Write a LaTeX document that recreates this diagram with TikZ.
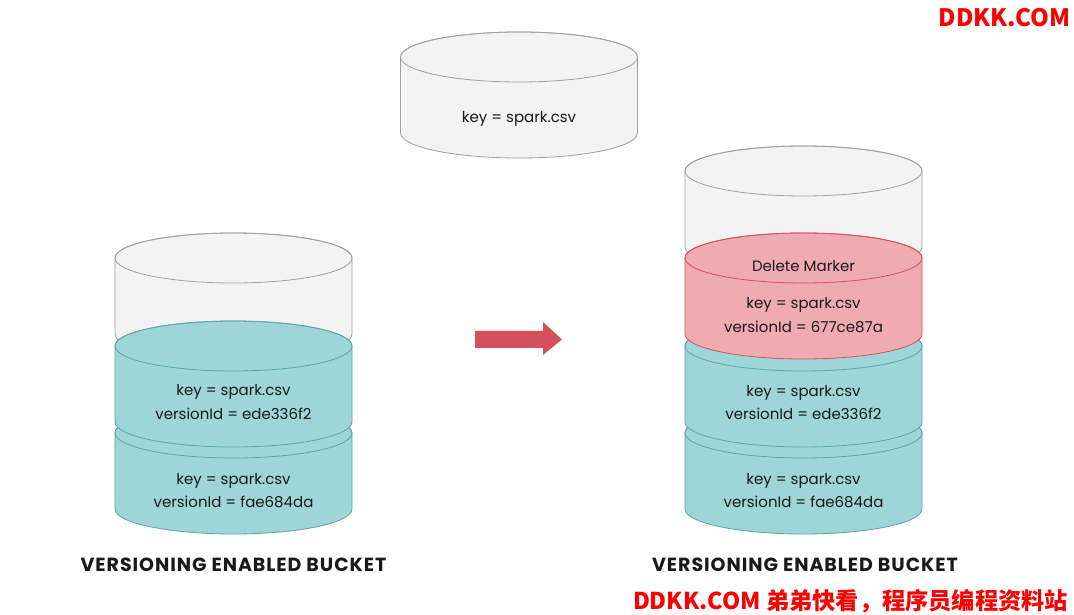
\documentclass[tikz,border=0pt]{standalone}
\usepackage{fontspec}
\setmainfont{Poppins}
\newfontfamily\cjk{Noto Sans CJK SC}
\newfontfamily\capfont[LetterSpace=5]{Poppins}
\usepackage{tikz}
\usetikzlibrary{positioning}
\definecolor{tealfill}{HTML}{9DD5D8}
\definecolor{tealline}{HTML}{5FA3AB}
\definecolor{greyfill}{HTML}{F3F3F3}
\definecolor{greyline}{HTML}{A0A0A0}
\definecolor{redfill}{HTML}{F0AAB2}
\definecolor{redline}{HTML}{D8505E}
\definecolor{arrowred}{HTML}{D4505A}
\definecolor{markred}{HTML}{FF0000}
% drum: centre x, top y, bottom y, fill, line
\newcommand{\drum}[5]{%
  \filldraw[fill=#4,draw=#5,line width=0.8pt]
    (#1-118.5,#2) -- (#1-118.5,#3)
    arc[start angle=180,end angle=360,x radius=118.5,y radius=25]
    -- (#1+118.5,#2)
    arc[start angle=0,end angle=180,x radius=118.5,y radius=25] -- cycle;
  \draw[draw=#5,line width=0.8pt] (#1,#2) ellipse[x radius=118.5,y radius=25];
}
\tikzset{
  lbl/.style={font=\fontsize{15}{18}\selectfont,text=black!90,inner sep=0pt},
  caption/.style={font=\capfont\bfseries\fontsize{19}{21}\selectfont,text=black!90,inner sep=0pt},
  wmark/.style={font=\cjk\bfseries\fontsize{#1}{26}\selectfont,text=markred,inner sep=0pt,anchor=east}
}
\begin{document}
\begin{tikzpicture}[x=1pt,y=1pt]
\useasboundingbox (0,0) rectangle (1074,614);
\fill[white] (0,0) rectangle (1074,614);
% object being deleted
\drum{519}{557}{481}{greyfill}{greyline}
\node[lbl] (topkey) at (519,495) {key = spark.csv};
% left bucket
\drum{233.5}{356}{280}{greyfill}{greyline}
\drum{233.5}{181}{105}{tealfill}{tealline}
\drum{233.5}{268}{192}{tealfill}{tealline}
\node[lbl] (lkeyA) at (233.5,222) {key = spark.csv};
\node[lbl] (lverA) at (233.5,200) {versionId = ede336f2};
\node[lbl] (lkeyB) at (233.5,133) {key = spark.csv};
\node[lbl] (lverB) at (233.5,112) {versionId = fae684da};
\node[caption] (lcap) at (233.5,49) {VERSIONING ENABLED BUCKET};
% arrow
\fill[arrowred] (475,283) -- (543,283) -- (543,292) -- (562,274.5)
  -- (543,259) -- (543,266) -- (475,266) -- cycle;
% right bucket
\drum{803.5}{443}{367}{greyfill}{greyline}
\drum{803.5}{181}{105}{tealfill}{tealline}
\drum{803.5}{268}{192}{tealfill}{tealline}
\drum{803.5}{356}{280}{redfill}{redline}
\node[lbl] (rdel) at (803.5,348) {Delete Marker};
\node[lbl] (rkeyM) at (803.5,309) {key = spark.csv};
\node[lbl] (rverM) at (803.5,287) {versionId = 677ce87a};
\node[lbl] (rkeyA) at (803.5,221) {key = spark.csv};
\node[lbl] (rverA) at (803.5,200) {versionId = ede336f2};
\node[lbl] (rkeyB) at (803.5,133) {key = spark.csv};
\node[lbl] (rverB) at (803.5,112) {versionId = fae684da};
\node[caption] (rcap) at (805,49) {VERSIONING ENABLED BUCKET};
% watermarks
\node[wmark=24] (wmtop) at (1071,596) {DDKK.COM};
\node[wmark=23.2] (wmbot) at (1068,13) {DDKK.COM 弟弟快看，程序员编程资料站};
\end{tikzpicture}
\end{document}
